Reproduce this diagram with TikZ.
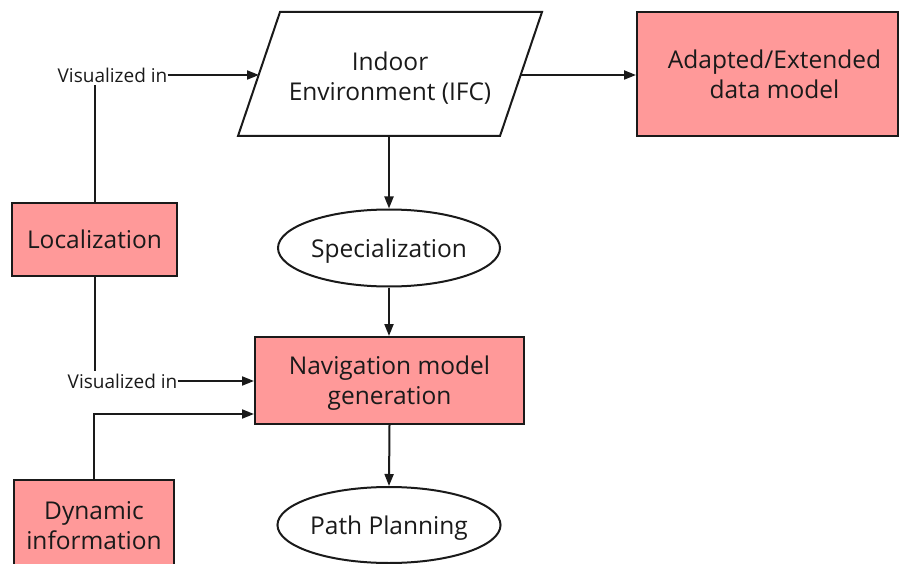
\documentclass[tikz,border=0pt]{standalone}
\usepackage{fontspec}
\setmainfont{Open Sans}
\usetikzlibrary{shapes.geometric,arrows.meta,calc}
\definecolor{boxred}{HTML}{FF9999}
\definecolor{ink}{HTML}{1A1A1A}
\begin{document}
\begin{tikzpicture}[x=1pt,y=-1pt,
  font=\fontsize{24.5}{30}\selectfont,
  every node/.style={align=center, text=ink},
  redbox/.style={draw=ink, line width=2pt, fill=boxred, inner sep=0pt, text depth=0pt},
  oval/.style={draw=ink, line width=2pt, ellipse, fill=white, minimum width=222pt, minimum height=77pt, inner sep=0pt, text depth=0pt},
  lbl/.style={font=\fontsize{19}{22}\selectfont, inner xsep=0pt, inner ysep=2pt},
  conn/.style={line width=2pt, draw=ink},
  arr/.style={conn, -{Triangle[length=12pt,width=9pt]}}
]
\useasboundingbox (0,0) rectangle (899,564);

% parallelogram (data shape)
\node (ifc) at (390,78) {Indoor\\Environment (IFC)};
\draw[conn, line join=miter] (280,12) -- (542,12) -- (500,136) -- (238,136) -- cycle;
\coordinate (ifcL) at (259,75);
\coordinate (ifcR) at (521,75);
\coordinate (ifcB) at (389,136);

\node[redbox, minimum width=261pt, minimum height=124pt] (adm) at (767.5,74) {\hspace*{14pt}Adapted/Extended\\\hspace*{14pt}data model};
\node[oval] (spec) at (389,248) {Specialization};
\node[redbox, minimum width=165pt, minimum height=73pt] (loc) at (94.5,239.5) {Localization};
\node[redbox, minimum width=269pt, minimum height=87pt] (nav) at (389.5,380.5) {Navigation model\\generation};
\node[redbox, minimum width=160pt, minimum height=92pt] (dyn) at (94,526) {Dynamic\\information};
\node[oval, minimum height=76pt] (path) at (389,525) {Path Planning};

\node[lbl] (vis1) at (112.5,75) {Visualized in};
\node[lbl] (vis2) at (122.5,381) {Visualized in};

\draw[arr] (vis1.east) -- (ifcL);
\draw[arr] (ifcR) -- (ifcR -| adm.west);
\draw[arr] (ifcB) -- (spec.north);
\draw[arr] (spec.south) -- (spec.south |- nav.north);
\draw[arr] (nav.south) -- (path.north);
\draw[arr] (vis2.east) -- (vis2.east -| nav.west);
\draw[conn] (loc.north) -- (loc.north |- vis1.south);
\draw[conn] (loc.south) -- (loc.south |- vis2.north);
\draw[arr] (dyn.north) |- ([yshift=-33.5pt]nav.west);
\end{tikzpicture}
\end{document}
